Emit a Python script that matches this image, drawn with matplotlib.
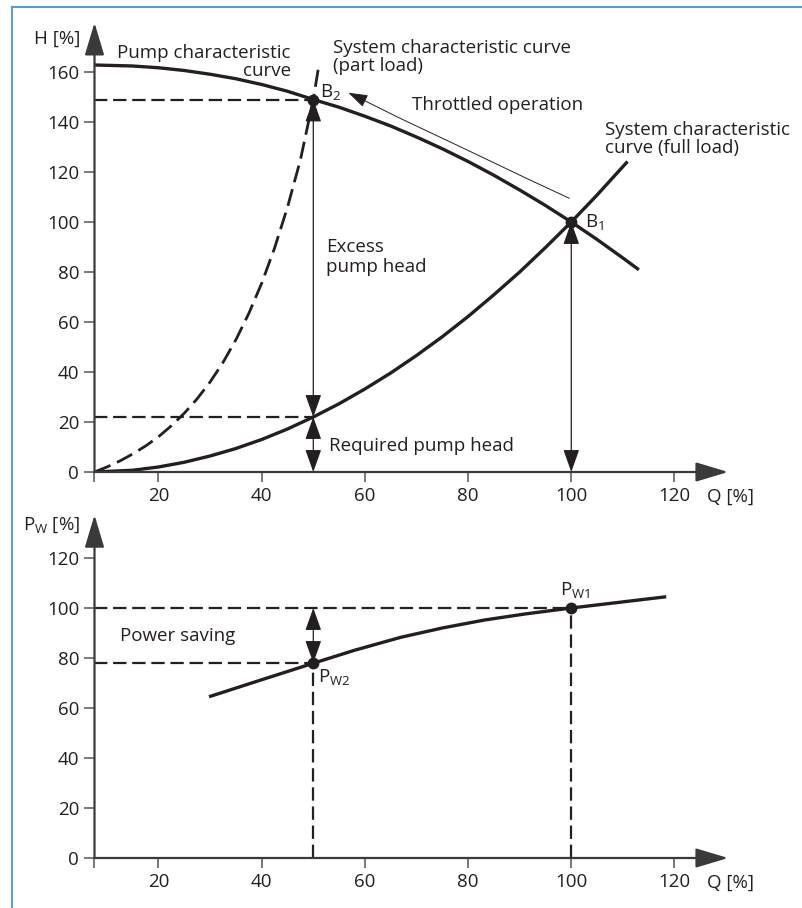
import matplotlib
matplotlib.use('Agg')
import matplotlib.pyplot as plt
from matplotlib.lines import Line2D

plt.rcParams['font.family'] = ['Open Sans', 'DejaVu Sans']
plt.rcParams['mathtext.fontset'] = 'custom'
plt.rcParams['mathtext.rm'] = 'Open Sans'
plt.rcParams['mathtext.it'] = 'Open Sans:italic'
plt.rcParams['mathtext.default'] = 'regular'

# --- data ---
q_pump = [7.6, 15, 20, 25, 30, 35, 40, 45, 50, 55, 60, 65, 70, 75, 80, 85, 90, 95, 100, 105, 110, 113.1]
h_pump = [162.8, 162.4, 161.7, 160.6, 159.1, 157.3, 155.0, 152.3, 149.0, 145.9, 142.3, 138.4, 134.0,
          129.3, 124.2, 118.7, 112.8, 106.6, 100.0, 93.0, 85.6, 80.9]

q_full = [7.6, 15, 20, 25, 30, 35, 40, 45, 50, 55, 60, 65, 70, 75, 80, 85, 90, 95, 100, 105, 110.9]
h_full = [0, 0.7, 2.0, 3.9, 6.4, 9.4, 13.0, 17.2, 22.0, 27.3, 33.2, 39.6, 46.6, 54.1, 62.2, 70.9,
          80.0, 89.8, 100, 110.8, 124.2]

q_part = [7.6, 10, 12.5, 15, 17.5, 20, 22.5, 25, 27.5, 30, 32.5, 35, 37.5, 40, 42.5, 45, 47.5, 50, 51.1]
h_part = [0, 2.0, 4.4, 7.2, 10.4, 14.1, 18.5, 23.5, 29.3, 36.0, 43.8, 52.9, 63.4, 75.5, 89.6, 105.9,
          124.8, 149.0, 163.0]

q_thr = [99.6, 92.0, 79.1, 66.2, 59.7]
h_thr = [109.5, 116.8, 129.5, 142.1, 148.8]
thr_tip = (56.8, 151.7)

q_pow = [29.8, 40, 50, 58, 67, 75, 83.2, 91, 100, 109, 118.4]
p_pow = [64.5, 71.3, 77.9, 83.1, 88.3, 92.0, 95.2, 97.6, 100, 102.2, 104.5]

B1 = (100, 100)
B2 = (50, 149)
H_req = 22
PW1 = (100, 100)
PW2 = (50, 78)

xticks = [20, 40, 60, 80, 100, 120]
yticks_h = [0, 20, 40, 60, 80, 100, 120, 140, 160]
yticks_p = [0, 20, 40, 60, 80, 100, 120]

# --- layout (pixel based) ---
W, H = 803, 908
q0 = 7.6          # Q value where the H / P axes sit
sx, sy = 5.16, 2.5  # px per unit
left_px = 94.5
ink = '#231f20'
fs = 13.5

fig = plt.figure(figsize=(W / 100, H / 100), dpi=100)


def dq(px):
    return q0 + (px - left_px) / sx


def dv(py, base):
    return (base - py) / sy


def make_ax(base_px, top_px, yticks):
    ax = fig.add_axes([left_px / W, 1 - base_px / H, (W - left_px) / W, (base_px - top_px) / H])
    ax.set_xlim(q0, q0 + (W - left_px) / sx)
    ax.set_ylim(0, (base_px - top_px) / sy)
    ax.patch.set_visible(False)
    for s in ax.spines.values():
        s.set_visible(False)
    ax.set_xticks([q0] + xticks, [''] + [str(t) for t in xticks])
    ax.set_yticks(yticks, [str(t) for t in yticks])
    ax.tick_params(direction='out', length=7, width=1.1, color='#555555',
                   labelsize=fs, labelcolor=ink, pad=4)
    return ax


def arrow(ax, p0, p1, style='-|>', lw=0.9, hl=14, hw=5, color=ink):
    ax.annotate('', xy=p1, xytext=p0, annotation_clip=False,
                arrowprops=dict(arrowstyle=f'{style},head_length={hl},head_width={hw}',
                                mutation_scale=1, lw=lw, color=color,
                                shrinkA=0, shrinkB=0))


def draw_axes_arrows(ax, ytip):
    arrow(ax, (q0, 0), (130.4, 0), lw=1.6, hl=20, hw=6, color='#3a3a3a')
    arrow(ax, (q0, 0), (q0, ytip), lw=1.6, hl=20, hw=6, color='#3a3a3a')


dash_short = (0, (6.0, 2.6))

# ===================== top chart: H over Q =====================
ax1 = make_ax(472, 0, yticks_h)
draw_axes_arrows(ax1, 179.7)

ax1.plot([q0, B2[0]], [B2[1], B2[1]], color=ink, lw=1.6, ls=dash_short)
ax1.plot([q0, B2[0]], [H_req, H_req], color=ink, lw=1.6, ls=dash_short)

ax1.plot(q_part, h_part, color=ink, lw=2.0, ls=(0, (6.2, 2.6)))
ax1.plot(q_full, h_full, color=ink, lw=2.4, solid_capstyle='butt')
ax1.plot(q_pump, h_pump, color=ink, lw=2.4, solid_capstyle='butt')

# double arrows
arrow(ax1, (B2[0], H_req), (B2[0], B2[1]), style='<|-|>')
arrow(ax1, (B2[0], 0), (B2[0], H_req), style='<|-|>')
arrow(ax1, (B1[0], 0), (B1[0], B1[1]), style='<|-|>')

# throttled operation
ax1.plot(q_thr, h_thr, color=ink, lw=0.7)
arrow(ax1, (q_thr[-1], h_thr[-1]), thr_tip, lw=0.7, hl=12, hw=4)

ax1.plot(*B1, 'o', color=ink, ms=7.5)
ax1.plot(*B2, 'o', color=ink, ms=7.5)

ax1.text(dq(80), dv(39, 472), 'H [%]', ha='right', va='center', fontsize=fs, color=ink)
ax1.text(dq(291), dv(62, 472), 'Pump characteristic\ncurve', ha='right', va='center',
         multialignment='right', linespacing=1.05, fontsize=fs, color=ink)
ax1.text(dq(333), dv(57, 472), 'System characteristic curve\n(part load)', ha='left',
         va='center', linespacing=1.05, fontsize=fs, color=ink)
ax1.text(dq(412), dv(105, 472), 'Throttled operation', ha='left', va='center', fontsize=fs, color=ink)
ax1.text(dq(605), dv(139, 472), 'System characteristic\ncurve (full load)', ha='left',
         va='center', linespacing=1.05, fontsize=fs, color=ink)
ax1.text(dq(585), dv(227, 472), 'B$_1$', ha='left', va='baseline', fontsize=fs, color=ink)
ax1.text(dq(320), dv(97, 472), 'B$_2$', ha='left', va='baseline', fontsize=fs, color=ink)
ax1.text(dq(326), dv(257, 472), 'Excess\npump head', ha='left', va='center',
         linespacing=1.1, fontsize=fs, color=ink)
ax1.text(dq(329), dv(446, 472), 'Required pump head', ha='left', va='center', fontsize=fs, color=ink)
ax1.text(dq(707), dv(497, 472), 'Q [%]', ha='left', va='center', fontsize=fs, color=ink)

# ===================== bottom chart: P_W over Q =====================
ax2 = make_ax(858, 478, yticks_p)
draw_axes_arrows(ax2, 137.2)

ax2.plot([q0, PW1[0]], [PW1[1], PW1[1]], color=ink, lw=1.6, ls=dash_short)
ax2.plot([q0, PW2[0]], [PW2[1], PW2[1]], color=ink, lw=1.6, ls=dash_short)
ax2.plot([PW1[0], PW1[0]], [0, PW1[1]], color=ink, lw=1.6, ls=dash_short)
ax2.plot([PW2[0], PW2[0]], [0, PW2[1]], color=ink, lw=1.6, ls=dash_short)

ax2.plot(q_pow, p_pow, color=ink, lw=2.4, solid_capstyle='butt')
arrow(ax2, (PW2[0], PW2[1]), (PW2[0], PW1[1]), style='<|-|>')

ax2.plot(*PW1, 'o', color=ink, ms=7.5)
ax2.plot(*PW2, 'o', color=ink, ms=7.5)

ax2.text(dq(80), dv(525, 858), 'P$_{W}$ [%]', ha='right', va='center', fontsize=fs, color=ink)
ax2.text(dq(120), dv(636, 858), 'Power saving', ha='left', va='center', fontsize=fs, color=ink)
ax2.text(dq(318), dv(682, 858), 'P$_{W2}$', ha='left', va='baseline', fontsize=fs, color=ink)
ax2.text(dq(560), dv(595, 858), 'P$_{W1}$', ha='left', va='baseline', fontsize=fs, color=ink)
ax2.text(dq(707), dv(883, 858), 'Q [%]', ha='left', va='center', fontsize=fs, color=ink)

# blue frame (left and top edges)
frame = '#5b9bd1'
fig.add_artist(Line2D([12 / W, 12 / W], [0, 1 - 7 / H], color=frame, lw=1.5))
fig.add_artist(Line2D([12 / W, 1], [1 - 7 / H, 1 - 7 / H], color=frame, lw=1.5))

fig.savefig('out.png', dpi=100)
